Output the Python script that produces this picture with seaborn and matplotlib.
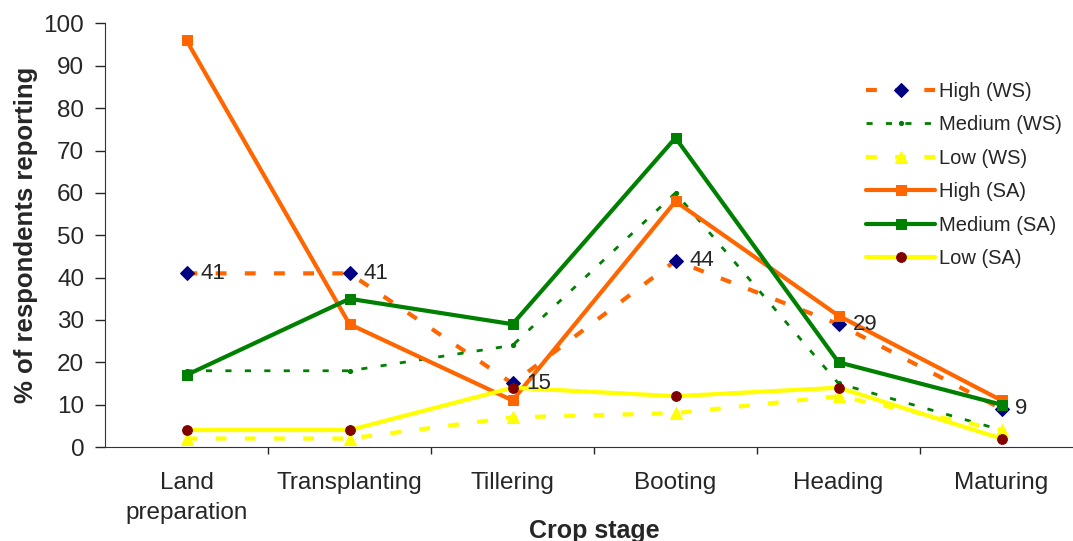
import numpy as np
import pandas as pd
import matplotlib
matplotlib.use("Agg")
import matplotlib.pyplot as plt
import seaborn as sns

stages = ["Land\npreparation", "Transplanting", "Tillering", "Booting", "Heading", "Maturing"]

high_ws = [41, 41, 15, 44, 29, 9]
medium_ws = [18, 18, 24, 60, 15, 4]
low_ws = [2, 2, 7, 8, 12, 4]
high_sa = [96, 29, 11, 58, 31, 11]
medium_sa = [17, 35, 29, 73, 20, 10]
low_sa = [4, 4, 14, 12, 14, 2]

series_names = ["High (WS)", "Medium (WS)", "Low (WS)", "High (SA)", "Medium (SA)", "Low (SA)"]
series_vals = [high_ws, medium_ws, low_ws, high_sa, medium_sa, low_sa]

df = pd.DataFrame({"pos": np.arange(len(stages))})
for name, vals in zip(series_names, series_vals):
    df[name] = vals

sns.set_style("ticks")
plt.rcParams["font.family"] = ["Liberation Sans", "DejaVu Sans"]

# line styles for each series
styles = {
    "High (WS)":   dict(color="#FF6600", lw=3.0, ls=(0, (2.6, 4.4)), marker="D", ms=7, mfc="#000080", mec="#000080"),
    "Medium (WS)": dict(color="#008000", lw=2.0, ls=(0, (2.2, 4.8)), marker="o", ms=3, mfc="#008000", mec="#008000"),
    "Low (WS)":    dict(color="#FFFF00", lw=3.0, ls=(0, (2.6, 4.4)), marker="^", ms=9, mfc="#FFFF00", mec="#FFFF00"),
    "High (SA)":   dict(color="#FF6600", lw=3.0, ls="-", marker="s", ms=6.5, mfc="#FF6600", mec="#FF6600"),
    "Medium (SA)": dict(color="#008000", lw=3.0, ls="-", marker="s", ms=6.5, mfc="#008000", mec="#008000"),
    "Low (SA)":    dict(color="#FFFF00", lw=3.0, ls="-", marker="o", ms=7, mfc="#800000", mec="#800000"),
}

fig = plt.figure(figsize=(10.73, 5.41), dpi=100)
ax = fig.add_axes([105 / 1073, 1 - 447 / 541, 978 / 1073, 423.5 / 541])

for name in series_names:
    s = styles[name]
    sns.lineplot(data=df, x="pos", y=name, ax=ax, color=s["color"], linewidth=s["lw"],
                 linestyle=s["ls"], marker=s["marker"], markersize=s["ms"],
                 markerfacecolor=s["mfc"], markeredgecolor=s["mec"], label=name)

# value labels for High (WS)
for x, v in zip(df["pos"], high_ws):
    ax.annotate(str(v), (x, v), xytext=(10, 0), textcoords="offset points",
                va="center", ha="left", fontsize=16)

ax.set_xlim(-0.5, len(stages) - 0.5)
ax.set_ylim(0, 100)
ax.set_yticks(range(0, 101, 10))
ax.set_xticks(np.arange(0.5, len(stages) - 0.5, 1.0))
ax.set_xticklabels([])
ax.set_xticks(np.arange(len(stages)), minor=True)
ax.set_xticklabels(stages, minor=True, linespacing=1.45)
ax.tick_params(axis="x", which="minor", length=0, pad=18, labelsize=17.5)
ax.tick_params(axis="x", which="major", length=5, direction="out", width=1)
ax.tick_params(axis="y", length=7, width=1, labelsize=17.5, pad=8)

ax.set_xlabel("Crop stage", fontsize=18, fontweight="bold")
ax.xaxis.set_label_coords(0.5, (447 - 519) / 423.5)
ax.set_ylabel("% of respondents reporting", fontsize=18.5, fontweight="bold", labelpad=4)
sns.despine(ax=ax, right=True, top=True)
for sp in ["left", "bottom"]:
    ax.spines[sp].set_color("#333333")

leg = ax.legend(loc="upper left", bbox_to_anchor=(0.76, 0.905), frameon=False,
                fontsize=14.5, handlelength=3.4, handletextpad=0.2, labelspacing=0.72)

fig.savefig("out.png", dpi=100)
